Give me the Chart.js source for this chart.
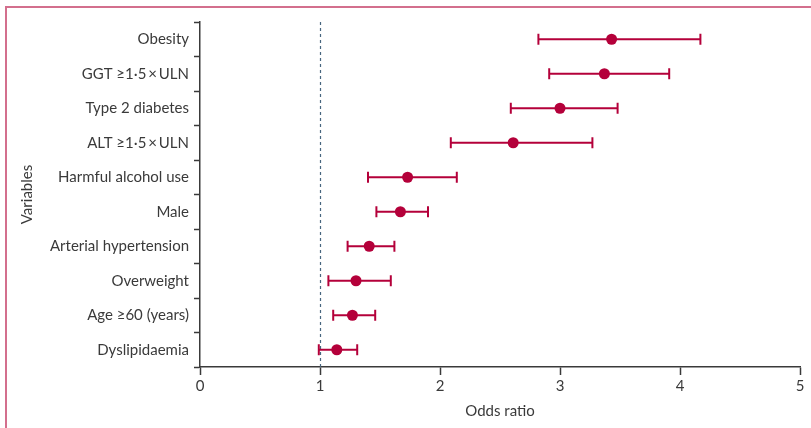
<!DOCTYPE html>
<html>
<head>
<meta charset="utf-8">
<script src="https://cdn.jsdelivr.net/npm/chart.js@4"></script>
<style>
  html, body { margin: 0; padding: 0; background: #fff; }
  #wrap { position: relative; width: 811px; height: 428px; }
  #frame { position: absolute; left: 5px; top: 6px; right: 0; bottom: 0;
           border-top: 2px solid #d36f8d; border-left: 2px solid #d36f8d; }
  canvas { position: absolute; left: 0; top: 0; }
</style>
</head>
<body>
<div id="wrap">
  <div id="frame"></div>
  <canvas id="myChart" width="811" height="428"></canvas>
</div>
<script>
const variables = ['Obesity', 'GGT \u22651\u00b75\u2009\u00d7\u2009ULN', 'Type 2 diabetes', 'ALT \u22651\u00b75\u2009\u00d7\u2009ULN',
  'Harmful alcohol use', 'Male', 'Arterial hypertension', 'Overweight', 'Age \u226560 (years)', 'Dyslipidaemia'];
const oddsRatio = [3.43, 3.37, 3.00, 2.61, 1.73, 1.67, 1.41, 1.30, 1.27, 1.14];
const ciLower   = [2.82, 2.91, 2.59, 2.09, 1.40, 1.47, 1.23, 1.07, 1.11, 0.99];
const ciUpper   = [4.17, 3.91, 3.48, 3.27, 2.14, 1.90, 1.62, 1.59, 1.46, 1.31];
const xTicks = [0, 1, 2, 3, 4, 5];
const refValue = 1;

const red = '#b4003a';
const ink = '#3a3a3a';

Chart.defaults.font.family = 'Lato, "Open Sans", sans-serif';
Chart.defaults.font.size = 15;
Chart.defaults.color = ink;

// one dataset per confidence interval, caps drawn as rotated line points
const ciSets = variables.map((v, i) => ({
  data: [{x: ciLower[i], y: v}, {x: ciUpper[i], y: v}],
  showLine: true,
  borderColor: red,
  borderWidth: 2,
  pointStyle: 'line',
  rotation: 90,
  pointRadius: 5.5,
  pointBorderWidth: 2,
  pointBorderColor: red,
  clip: false
}));

const refLine = {
  id: 'refLine',
  beforeDatasetsDraw(chart) {
    const {ctx, chartArea, scales} = chart;
    const px = Math.round(scales.x.getPixelForValue(refValue)) + 0.5;
    ctx.save();
    ctx.strokeStyle = '#47667f';
    ctx.lineWidth = 1.2;
    ctx.setLineDash([3, 3]);
    ctx.beginPath();
    ctx.moveTo(px, chartArea.top);
    ctx.lineTo(px, chartArea.bottom);
    ctx.stroke();
    ctx.restore();
  }
};

const ctx = document.querySelector('#myChart');

myChart = new Chart(ctx, {
  type: 'scatter',
  data: {
    datasets: [{
      data: variables.map((v, i) => ({x: oddsRatio[i], y: v})),
      backgroundColor: red,
      borderWidth: 0,
      pointRadius: 5.5,
      clip: false
    }].concat(ciSets)
  },
  plugins: [refLine],
  options: {
    responsive: false,
    animation: false,
    layout: { padding: { top: 22, left: 0, right: 11, bottom: 0 } },
    plugins: { legend: { display: false }, tooltip: { enabled: false } },
    scales: {
      x: {
        type: 'linear',
        min: 0,
        max: 5,
        afterBuildTicks: s => { s.ticks = xTicks.map(v => ({value: v})); },
        afterFit: s => { s.height = 61; },
        grid: { drawOnChartArea: false, tickLength: 8, color: ink, tickWidth: 1.5 },
        border: { color: ink, width: 1.5 },
        ticks: { padding: 2, color: ink },
        title: { display: true, text: 'Odds ratio', color: ink, padding: { top: 0, bottom: 8 } }
      },
      y: {
        type: 'category',
        labels: variables,
        offset: true,
        afterFit: s => { s.width = 200; },
        grid: { offset: true, drawOnChartArea: false, tickLength: 6, color: ink, tickWidth: 1.5 },
        border: { color: ink, width: 1.5 },
        ticks: { padding: 5, color: ink },
        title: { display: true, text: 'Variables', color: ink, padding: { top: 18, bottom: 0 } }
      }
    }
  }
});
</script>
</body>
</html>
